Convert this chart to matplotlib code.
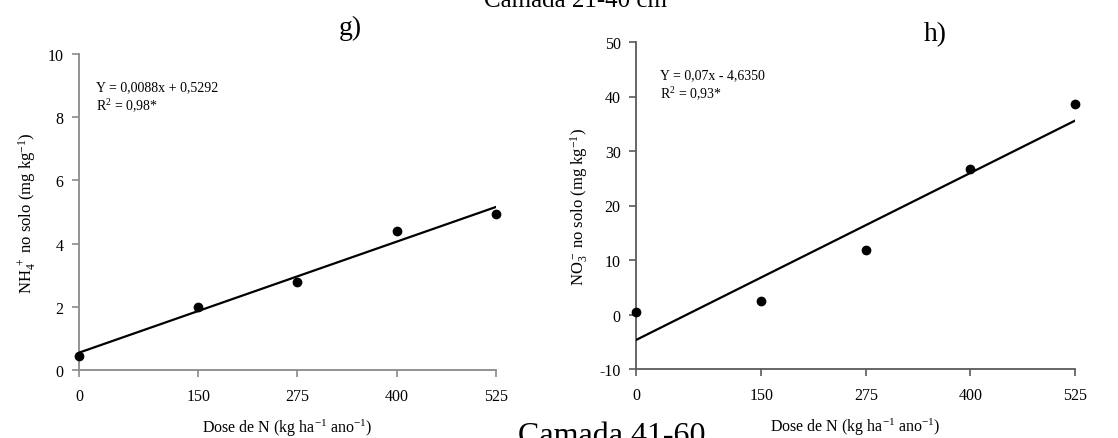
import numpy as np
import matplotlib
matplotlib.use("Agg")
import matplotlib.pyplot as plt

plt.rcParams["font.family"] = ["Liberation Serif", "DejaVu Serif"]
plt.rcParams["mathtext.fontset"] = "custom"
plt.rcParams["mathtext.rm"] = "Liberation Serif"
plt.rcParams["mathtext.it"] = "Liberation Serif:italic"
plt.rcParams["mathtext.bf"] = "Liberation Serif:bold"
plt.rcParams["axes.unicode_minus"] = False

# N doses (kg ha-1 year-1)
doses = [0, 150, 275, 400, 525]
dose_ticks = [0, 150, 275, 400, 525]

# Soil NH4+ and NO3- (mg kg-1), 21-40 cm layer
nh4 = [0.45, 2.0, 2.8, 4.4, 4.95]
no3 = [0.5, 2.4, 11.8, 26.7, 38.7]

nh4_eq = ["Y = 0,0088x + 0,5292", "R$^{2}$ = 0,98*"]
no3_eq = ["Y = 0,07x - 4,6350", "R$^{2}$ = 0,93*"]

W, H = 1118, 439
fig = plt.figure(figsize=(W / 100, H / 100), dpi=100)


def panel(rect, y, ylim, yticks, ylabel, eq, eq_pos, letter, letter_pos, spine_col):
    ax = fig.add_axes(rect)
    x = np.array(doses, dtype=float)
    yv = np.array(y, dtype=float)
    slope, icpt = np.polyfit(x, yv, 1)
    xl = np.array([0, 525], dtype=float)
    ax.plot(xl, slope * xl + icpt, color="black", lw=1.6, zorder=3)
    ax.plot(x, yv, "o", color="black", ms=6, clip_on=False, zorder=4)
    ax.set_xlim(0, 525)
    ax.set_ylim(*ylim)
    ax.set_xticks(dose_ticks)
    ax.set_yticks(yticks)
    for s in ("top", "right"):
        ax.spines[s].set_visible(False)
    for s in ("left", "bottom"):
        ax.spines[s].set_color(spine_col)
        ax.spines[s].set_linewidth(1.3)
    ax.tick_params(direction="out", length=5, width=1.2, color=spine_col,
                   labelsize=11.5, labelcolor="black")
    ax.tick_params(axis="x", pad=8)
    ax.tick_params(axis="y", pad=6)
    ax.set_xlabel("Dose de N (kg ha$^{\\mathrm{-1}}$ ano$^{\\mathrm{-1}}$)", fontsize=11.5,
                  labelpad=9)
    ax.set_ylabel(ylabel, fontsize=12, labelpad=7)
    ax.text(eq_pos[0], eq_pos[1], eq[0], transform=ax.transAxes, fontsize=10,
            va="baseline", ha="left")
    ax.text(eq_pos[0], eq_pos[1] - 0.062, eq[1], transform=ax.transAxes, fontsize=10,
            va="baseline", ha="left")
    fig.text(letter_pos[0] / W, 1 - letter_pos[1] / H, letter, fontsize=20,
             ha="center", va="baseline")
    return ax


panel([79 / W, 1 - 371 / H, 417 / W, 316 / H], nh4, (0, 10), [0, 2, 4, 6, 8, 10],
      "NH$_4^{\\ +}$ no solo (mg kg$^{\\mathrm{-1}}$)", nh4_eq, (0.04, 0.885),
      "g)", (350, 35), "#8a8a8a")

panel([636 / W, 1 - 370 / H, 439 / W, 327 / H], no3, (-10, 50),
      [-10, 0, 10, 20, 30, 40, 50],
      "NO$_3^{\\ \\mathrm{-}}$ no solo (mg kg$^{\\mathrm{-1}}$)", no3_eq, (0.055, 0.89),
      "h)", (935, 41), "#5a5a5a")

# Layer headings (partially outside the canvas)
fig.text(575 / W, 1 - 7 / H, "Camada 21-40 cm", fontsize=18, ha="center", va="baseline")
fig.text(612 / W, 1 - 444 / H, "Camada 41-60", fontsize=23, ha="center", va="baseline")

fig.savefig("out.png", dpi=100)
